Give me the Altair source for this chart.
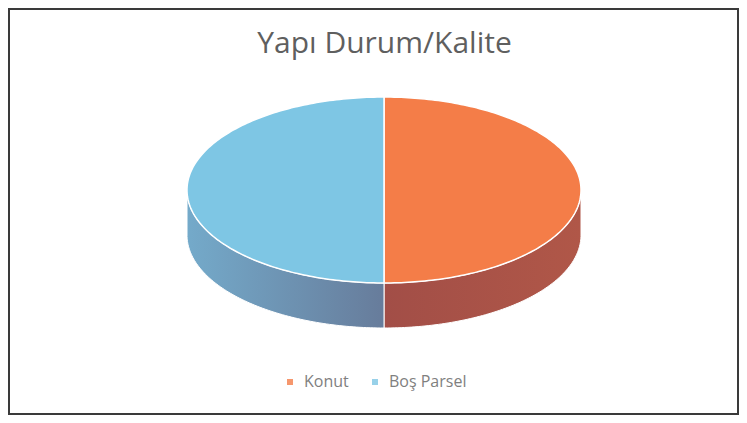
import numpy as np
import altair as alt

# ---- data ----
categories = ["Konut", "Boş Parsel"]
values = [50, 50]
top_colors = ["#F47D48", "#7EC6E4"]
side_colors = {"Konut": ["#A24E47", "#B05748"], "Boş Parsel": ["#74AACA", "#677C9B"]}
title_text = "Yapı Durum/Kalite"

# ---- layout (pixels inside the view) ----
W, H = 731, 407
CX, CY, RX, RY, DEPTH = 376, 182, 197, 93, 45


def pt(theta_deg, dy=0.0):
    t = np.radians(theta_deg)
    return [float(CX + RX * np.sin(t)), float(CY - RY * np.cos(t) + dy)]


total = float(sum(values))
top_features = []
side_features = {}
start = 0.0
for cat, v in zip(categories, values):
    span = 360.0 * v / total
    end = start + span
    n = max(int(span), 2)
    arc = [pt(a) for a in np.linspace(start, end, n + 1)]
    ring = [[CX, CY]] + arc + [[CX, CY]]
    top_features.append({"type": "Feature", "properties": {"category": cat},
                         "geometry": {"type": "Polygon", "coordinates": [ring]}})
    a0, a1 = max(start, 90.0), min(end, 270.0)
    if a1 > a0:
        angs = np.linspace(a0, a1, int(a1 - a0) + 1)
        upper = [pt(a) for a in angs]
        lower = [pt(a, DEPTH) for a in angs[::-1]]
        sring = upper + lower + [upper[0]]
        side_features[cat] = {"type": "Feature", "properties": {"category": cat},
                              "geometry": {"type": "Polygon", "coordinates": [sring]}}
    start = end

# frame around the chart
frame = {"type": "Feature", "properties": {},
         "geometry": {"type": "Polygon",
                      "coordinates": [[[1, 1], [W - 1, 1], [W - 1, H - 1], [1, H - 1], [1, 1]]]}}

layers = [
    alt.Chart(alt.Data(values=[frame])).mark_geoshape(
        fill="white", stroke="#3A3A3A", strokeWidth=2
    )
]
for cat, feat in side_features.items():
    c0, c1 = side_colors[cat]
    layers.append(
        alt.Chart(alt.Data(values=[feat])).mark_geoshape(
            fill=alt.Gradient(gradient="linear", x1=0, x2=1, y1=0, y2=0,
                              stops=[alt.GradientStop(color=c0, offset=0),
                                     alt.GradientStop(color=c1, offset=1)]),
            stroke="white", strokeWidth=1
        )
    )

top = alt.Chart(alt.Data(values=top_features)).mark_geoshape(
    stroke="white", strokeWidth=1.5
).encode(
    color=alt.Color(
        "properties.category:N",
        scale=alt.Scale(domain=categories, range=top_colors),
        legend=alt.Legend(
            title=None, orient="none", direction="horizontal",
            legendX=274, legendY=366,
            symbolType="square", symbolSize=36, symbolStrokeWidth=0,
            symbolOpacity=0.8,
            labelFont="Open Sans", labelFontSize=16, labelColor="#7F7F7F",
            columnPadding=18, labelOffset=6,
        ),
    )
)
layers.append(top)

chart = alt.layer(*layers).project(
    type="identity", scale=1, translate=[0, 0]
).properties(
    width=W, height=H,
    title=alt.TitleParams(title_text, font="Open Sans", fontSize=30,
                          fontWeight="normal", color="#5F5F5F",
                          anchor="middle", dx=11, dy=55),
    autosize=alt.AutoSizeParams(type="none"),
    padding=0,
).configure_view(stroke=None)

chart.save("out.html", embed_options={"renderer": "svg", "actions": False})
